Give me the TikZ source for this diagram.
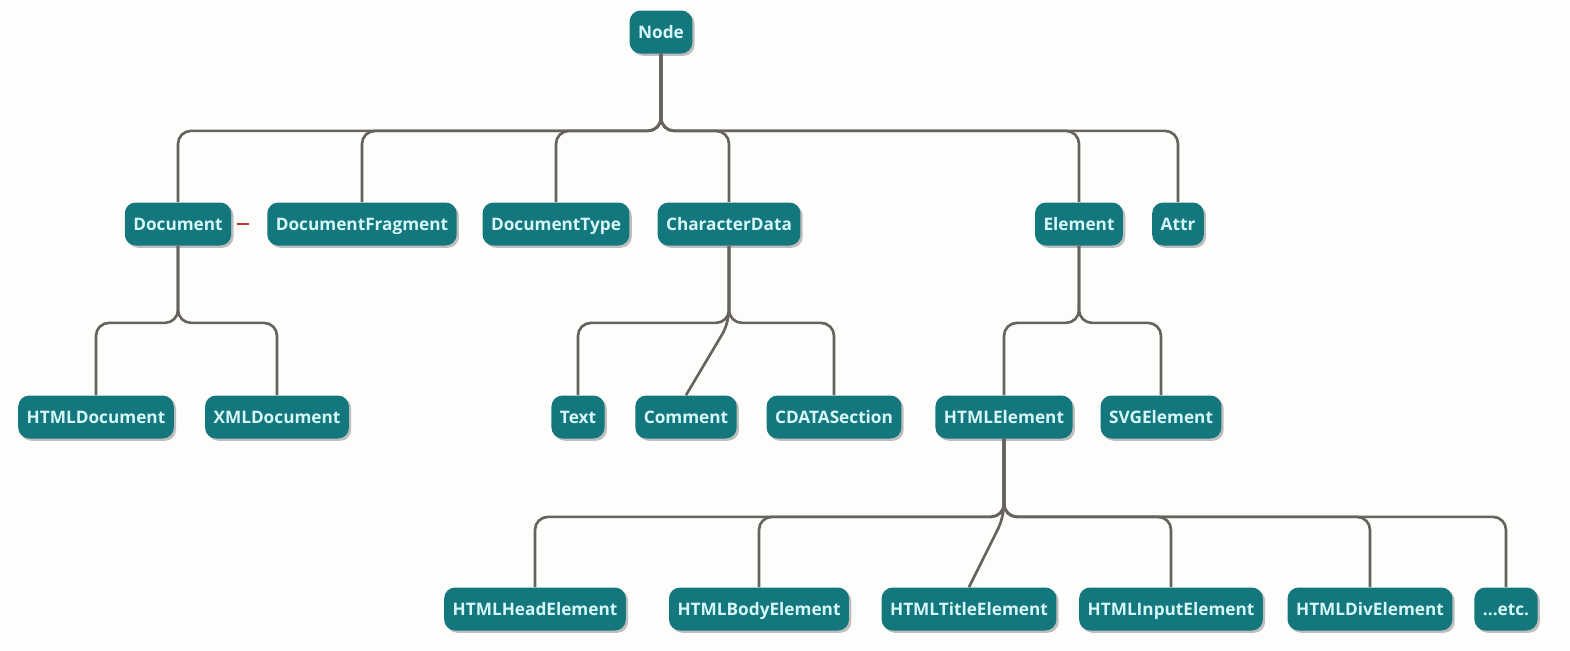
\documentclass[tikz,border=0pt]{standalone}
\usepackage{fontspec}
\setmainfont{Open Sans}
\usetikzlibrary{shadows}
\definecolor{domteal}{HTML}{13777D}
\definecolor{domtext}{HTML}{D5F7F7}
\definecolor{domline}{HTML}{66625F}
\definecolor{domred}{HTML}{C0392B}
\definecolor{dompaper}{HTML}{FDFDFB}

\begin{document}
\begin{tikzpicture}[x=0.02cm, y=-0.02cm, font=\fontsize{9.8}{12}\selectfont\bfseries,
  box/.style={fill=domteal, text=domtext, rounded corners=0.22cm, minimum height=0.86cm, inner xsep=0.17cm,
    text height=7.1pt, text depth=0pt,
    drop shadow={shadow xshift=1.3pt, shadow yshift=-1.3pt, opacity=0.45, fill=black!55}},
  link/.style={draw=domline, line width=1.5pt, rounded corners=0.26cm}]
  \fill[dompaper] (0,0) rectangle (1570,650);
  \useasboundingbox (0,0) rectangle (1570,650);
  % top
  \node[box] (node) at (661,32) {Node};
  % level one
  \node[box] (doc) at (178,224) {Document};
  \node[box] (frag) at (362,224) {DocumentFragment};
  \node[box] (dtype) at (556,224) {DocumentType};
  \node[box] (chdata) at (729,224) {CharacterData};
  \node[box] (elem) at (1079,224) {Element};
  \node[box] (attr) at (1178,224) {Attr};
  % level two
  \node[box] (htmldoc) at (96,417) {HTMLDocument};
  \node[box] (xmldoc) at (277,417) {XMLDocument};
  \node[box] (text) at (578,417) {Text};
  \node[box] (comment) at (686,417) {Comment};
  \node[box] (cdata) at (834,417) {CDATASection};
  \node[box] (htmlel) at (1004,417) {HTMLElement};
  \node[box] (svgel) at (1161,417) {SVGElement};
  % level three
  \node[box] (head) at (535,609) {HTMLHeadElement};
  \node[box] (body) at (759,609) {HTMLBodyElement};
  \node[box] (title) at (969,609) {HTMLTitleElement};
  \node[box] (input) at (1171,609) {HTMLInputElement};
  \node[box] (div) at (1370,609) {HTMLDivElement};
  \node[box] (etc) at (1506,609) {...etc.};

  \foreach \c in {doc,frag,dtype,chdata,elem,attr}
    \draw[link] (node.south) -- ++(0,77) -| (\c.north);
  \foreach \c in {htmldoc,xmldoc}
    \draw[link] (doc.south) -- ++(0,77) -| (\c.north);
  \foreach \c in {text,cdata}
    \draw[link] (chdata.south) -- ++(0,77) -| (\c.north);
  \draw[link] (chdata.south) -- ++(0,77) -- (comment.north);
  \foreach \c in {htmlel,svgel}
    \draw[link] (elem.south) -- ++(0,77) -| (\c.north);
  \foreach \c in {head,body,input,div,etc}
    \draw[link] (htmlel.south) -- ++(0,78) -| (\c.north);
  \draw[link] (htmlel.south) -- ++(0,78) -- (title.north);
  \draw[domred, line width=1.2pt] ([xshift=0.1cm]doc.east) -- ++(12,0);
\end{tikzpicture}
\end{document}
